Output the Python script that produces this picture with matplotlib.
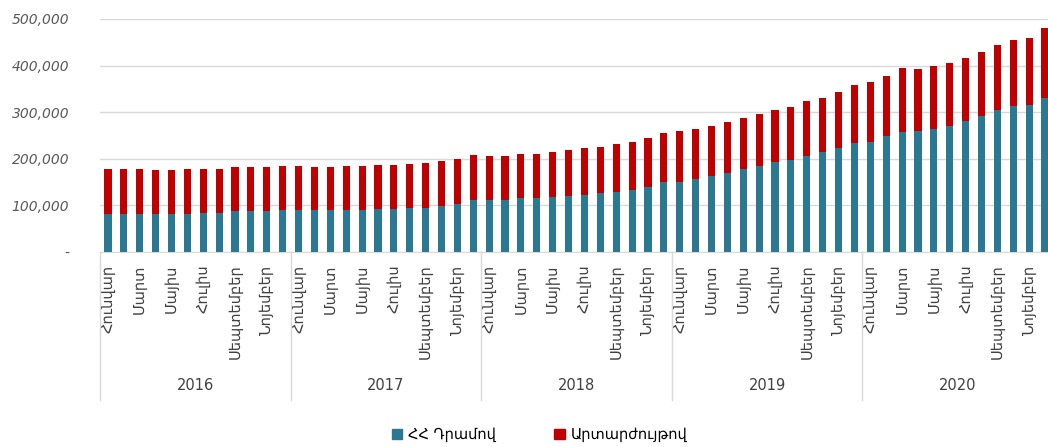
import matplotlib.pyplot as plt
import numpy as np
from matplotlib.patches import Patch

years = ['2016', '2017', '2018', '2019', '2020']
months = ['Հունվար', 'Մարտ', 'Մայիս', 'Հուլիս', 'Սեպտեմբեր', 'Նոյեմբեր']

# total deposits (thousand AMD) and the dram part, Jan 2016 - Dec 2020
total = [178.6, 178.6, 178.6, 176.4, 176.4, 178.6, 178.6, 178.6, 181.4, 181.4, 181.4, 184.2,
         184.2, 181.4, 181.4, 184.2, 184.2, 187.1, 187.1, 189.3, 192.0, 194.9, 200.0, 208.6,
         206.4, 206.4, 211.3, 211.3, 214.1, 219.9, 222.7, 226.3, 231.3, 236.4, 245.0, 255.7,
         259.7, 264.8, 270.4, 279.0, 287.6, 295.5, 304.0, 312.0, 323.4, 331.3, 342.7, 359.2,
         364.8, 378.5, 395.7, 392.7, 398.5, 406.4, 417.2, 429.2, 443.6, 454.3, 459.2, 481.5]
amd = [82.2, 82.2, 82.2, 82.2, 82.2, 82.2, 84.4, 84.4, 87.2, 87.2, 87.2, 90.0,
       90.0, 90.0, 90.0, 90.0, 90.0, 92.9, 92.9, 95.1, 95.1, 97.9, 103.6, 112.2,
       112.2, 112.2, 115.0, 115.0, 117.1, 119.9, 122.9, 125.7, 128.5, 133.6, 139.2, 149.9,
       151.0, 156.0, 162.4, 170.4, 179.0, 184.5, 193.1, 198.3, 206.9, 214.6, 223.2, 233.9,
       236.9, 248.3, 256.9, 259.0, 264.8, 270.4, 282.0, 292.7, 304.1, 312.7, 314.8, 331.3]

amd = np.array(amd) * 1000
fx = np.array(total) * 1000 - amd

blue = '#2A7891'
red = '#C00000'

fig = plt.figure(figsize=(10.48, 4.47), dpi=100)
ax = fig.add_axes([100 / 1048, 1 - 252 / 447, 953 / 1048, 233 / 447])

x = np.arange(len(amd))
ax.bar(x, amd, width=0.45, color=blue, zorder=3)
ax.bar(x, fx, width=0.45, bottom=amd, color=red, zorder=3)

ax.set_ylim(0, 500000)
ax.set_xlim(-0.5, 59.5)
ax.set_yticks(np.arange(0, 500001, 100000))
ax.set_yticklabels(['-' if v == 0 else f'{v:,}' for v in range(0, 500001, 100000)],
                   fontstyle='italic', color='#595959', fontsize=10)
ax.tick_params(axis='y', length=0, pad=22)
ax.grid(axis='y', color='#D9D9D9', linewidth=1, zorder=0)

ax.set_xticks(np.arange(0, 60, 2))
ax.set_xticklabels(months * len(years), rotation=90, fontsize=10.5, color='#404040',
                   family='DejaVu Sans')
ax.tick_params(axis='x', length=0, pad=9)

for s in ['top', 'right', 'left']:
    ax.spines[s].set_visible(False)
ax.spines['bottom'].set_color('#D9D9D9')

tr = ax.get_xaxis_transform()
for i in range(len(years)):
    ax.plot([i * 12 - 0.5, i * 12 - 0.5], [0, -0.635], transform=tr, color='#D9D9D9',
            linewidth=1, clip_on=False)
    ax.text(i * 12 + 5.5, -0.571, years[i], transform=tr, ha='center', va='center',
            fontsize=10.5, color='#404040')

handles = [Patch(color=blue, label='ՀՀ Դրամով'), Patch(color=red, label='Արտարժույթով')]
fig.legend(handles=handles, loc='center', bbox_to_anchor=(0.515, 0.027), ncol=2,
           frameon=False, fontsize=10.5, handlelength=0.7, handleheight=0.7,
           columnspacing=4, handletextpad=0.4)

fig.savefig('out.png', dpi=100)
